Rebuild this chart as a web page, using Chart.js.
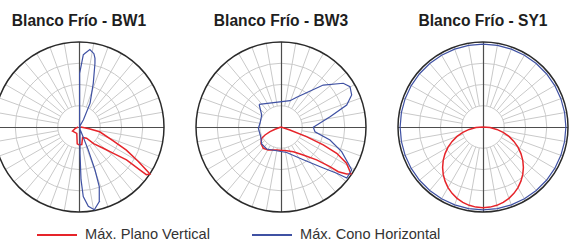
<!DOCTYPE html>
<html>
<head>
<meta charset="utf-8">
<script src="https://cdn.jsdelivr.net/npm/chart.js@4.4.1/dist/chart.umd.min.js"></script>
<style>
  html, body { margin: 0; padding: 0; background: #fff; }
  body { width: 570px; height: 241px; position: relative; overflow: hidden; font-family: "Liberation Sans", Arial, sans-serif; }
  .title { position: absolute; top: 13px; width: 200px; margin-left: -100px; text-align: center; font-weight: bold; font-size: 15.6px; line-height: 15px; color: #1e1e1e; white-space: nowrap; }
  canvas { position: absolute; top: 40px; }
  .legline { position: absolute; top: 234px; width: 40px; height: 2px; }
  .legtext { position: absolute; top: 226px; font-size: 14.6px; line-height: 16px; color: #333; white-space: nowrap; }
</style>
</head>
<body>
<div class="title" style="left:79px">Blanco Frío - BW1</div>
<div class="title" style="left:281px">Blanco Frío - BW3</div>
<div class="title" style="left:483px">Blanco Frío - SY1</div>

<canvas id="bw1" width="174" height="174" style="left:-8px"></canvas>
<canvas id="bw3" width="174" height="174" style="left:194px"></canvas>
<canvas id="sy1" width="174" height="174" style="left:396px"></canvas>

<div class="legline" style="left:37px;background:#e6242a"></div>
<div class="legtext" style="left:85px">Máx. Plano Vertical</div>
<div class="legline" style="left:252px;background:#3f51a3"></div>
<div class="legtext" style="left:300px">Máx. Cono Horizontal</div>

<script>
// angles in degrees from nadir (0 = down, + = right side), values in % of max
const ringValues = [25, 50, 75, 100];
const spokeStep = 10;

const bw1RedAngle = [90, 80, 77, 68, 64, 60, 57, 56.5, 54.7, 54.8, 55.3, 52.5, 48.8, 41.3, 34, 19, 9, 0, -6, -19, -58, -68, -90];
const bw1RedValue = [2, 12, 25, 43, 62, 80, 97, 100, 97, 88, 68, 51, 38, 26, 16, 13, 21, 21, 20, 8, 9, 5, 1];

const bw1BlueAngle = [180, 179.5, 179, 176.6, 175.3, 172, 168.5, 166.9, 165.9, 161.9, 155.1, 148.4, 140, 2.2, 2.2, 3.5, 6.7, 10.5, 15.2, 18.8, 20.4, 22, 23, 30];
const bw1BlueValue = [0, 44, 63, 85, 87, 92, 88, 83, 77, 54, 31, 10, 2, 31, 62, 82, 94, 99, 91, 74, 54, 29, 8, 1];

const bw3RedAngle = [90, 71.6, 69.3, 67, 64.7, 61.1, 56.2, 54.4, 52, 51, 47.3, 38.5, 26.5, 13.5, -10.6, -28.9, -39.7, -50.8, -59.6, -63.4, -66.9, -69, -90];
const bw3RedValue = [0, 11, 32, 54, 72.5, 88, 99, 95, 85.5, 74, 57, 42, 32.5, 28.7, 27.5, 31, 32.6, 30.4, 26.3, 21, 14, 7.5, 0];

const bw3BlueAngle = [-135.9, 161.1, 152.1, 134.8, 125.1, 120.3, 114.4, 108.5, 101.9, 89.5, 82.1, 75.1, 67.9, 60.1, 58.7, 52.2, 50.3, 45.9, 34.3, 12.6, -33, -48.6, -64.5, -86.7, -100, -121.9, -135.9];
const bw3BlueValue = [37, 32.7, 39.5, 70, 89.5, 94, 91.3, 81.5, 59, 38, 40.4, 59.6, 77, 93.7, 97.3, 97.9, 85.2, 69.3, 46.6, 30.7, 30.9, 30.3, 26.5, 26.7, 25.1, 26.7, 37];

const sy1RedAngle = [-90, -85, -80, -75, -70, -65, -60, -55, -50, -45, -40, -35, -30, -25, -20, -15, -10, -5, 0, 5, 10, 15, 20, 25, 30, 35, 40, 45, 50, 55, 60, 65, 70, 75, 80, 85, 90];
const sy1RedValue = [0, 8.3, 16.5, 24.6, 32.5, 40.1, 47.5, 54.5, 61.1, 67.2, 72.8, 77.8, 82.3, 86.1, 89.3, 91.8, 93.6, 94.6, 95, 94.6, 93.6, 91.8, 89.3, 86.1, 82.3, 77.8, 72.8, 67.2, 61.1, 54.5, 47.5, 40.1, 32.5, 24.6, 16.5, 8.3, 0];

const sy1BlueAngle = [-180, -170, -160, -150, -140, -130, -120, -110, -100, -90, -80, -70, -60, -50, -40, -30, -20, -10, 0, 10, 20, 30, 40, 50, 60, 70, 80, 90, 100, 110, 120, 130, 140, 150, 160, 170, 180];
const sy1BlueValue = [97.5, 97.5, 97.5, 97.5, 97.5, 97.5, 97.5, 97.5, 97.5, 97.5, 97.5, 97.5, 97.5, 97.5, 97.5, 97.5, 97.5, 97.5, 97.5, 97.5, 97.5, 97.5, 97.5, 97.5, 97.5, 97.5, 97.5, 97.5, 97.5, 97.5, 97.5, 97.5, 97.5, 97.5, 97.5, 97.5, 97.5];

const RED = '#e6242a';
const BLUE = '#3f51a3';

function toPoints(angles, values) {
    return angles.map((a, i) => {
        const t = a * Math.PI / 180;
        return { x: values[i] * Math.sin(t), y: -values[i] * Math.cos(t) };
    });
}

// polar grid: rings, spokes from the inner ring, cross axes, outer ring
const polarGrid = {
    id: 'polarGrid',
    beforeDatasetsDraw(chart) {
        const { ctx, scales: { x, y } } = chart;
        const cx = x.getPixelForValue(0);
        const cy = y.getPixelForValue(0);
        const rad = v => x.getPixelForValue(v) - cx;
        const rIn = rad(ringValues[0]);
        const rOut = rad(ringValues[ringValues.length - 1]);
        ctx.save();
        ctx.strokeStyle = '#c9c9c9';
        ctx.lineWidth = 1;
        ringValues.slice(0, -1).forEach(v => {
            ctx.beginPath();
            ctx.arc(cx, cy, rad(v), 0, Math.PI * 2);
            ctx.stroke();
        });
        for (let a = 0; a < 360; a += spokeStep) {
            if (a % 90 === 0) continue;
            const t = a * Math.PI / 180;
            ctx.beginPath();
            ctx.moveTo(cx + rIn * Math.cos(t), cy + rIn * Math.sin(t));
            ctx.lineTo(cx + rOut * Math.cos(t), cy + rOut * Math.sin(t));
            ctx.stroke();
        }
        ctx.strokeStyle = '#4d4d4d';
        ctx.lineWidth = 1.2;
        ctx.beginPath();
        ctx.moveTo(Math.round(cx) + 0.5, cy - rOut);
        ctx.lineTo(Math.round(cx) + 0.5, cy + rOut);
        ctx.moveTo(cx - rOut, Math.round(cy) + 0.5);
        ctx.lineTo(cx + rOut, Math.round(cy) + 0.5);
        ctx.stroke();
        ctx.strokeStyle = '#2a2a2a';
        ctx.lineWidth = 1.5;
        ctx.beginPath();
        ctx.arc(cx, cy, rOut, 0, Math.PI * 2);
        ctx.stroke();
        ctx.restore();
    }
};

function polarChart(id, series) {
    new Chart(document.getElementById(id), {
        type: 'scatter',
        data: {
            datasets: series.map(s => ({
                data: toPoints(s.angles, s.values),
                showLine: true,
                borderColor: s.color,
                borderWidth: s.width,
                pointRadius: 0,
                tension: 0,
                clip: false
            }))
        },
        options: {
            responsive: false,
            animation: false,
            devicePixelRatio: 1,
            events: [],
            layout: { padding: 2 },
            plugins: { legend: { display: false }, tooltip: { enabled: false } },
            scales: {
                x: { type: 'linear', min: -100, max: 100, display: false },
                y: { type: 'linear', min: -100, max: 100, display: false }
            }
        },
        plugins: [polarGrid]
    });
}

polarChart('bw1', [
    { angles: bw1BlueAngle, values: bw1BlueValue, color: BLUE, width: 1.2 },
    { angles: bw1RedAngle, values: bw1RedValue, color: RED, width: 1.5 }
]);
polarChart('bw3', [
    { angles: bw3BlueAngle, values: bw3BlueValue, color: BLUE, width: 1.2 },
    { angles: bw3RedAngle, values: bw3RedValue, color: RED, width: 1.5 }
]);
polarChart('sy1', [
    { angles: sy1BlueAngle, values: sy1BlueValue, color: BLUE, width: 1.2 },
    { angles: sy1RedAngle, values: sy1RedValue, color: RED, width: 1.5 }
]);
</script>
</body>
</html>
